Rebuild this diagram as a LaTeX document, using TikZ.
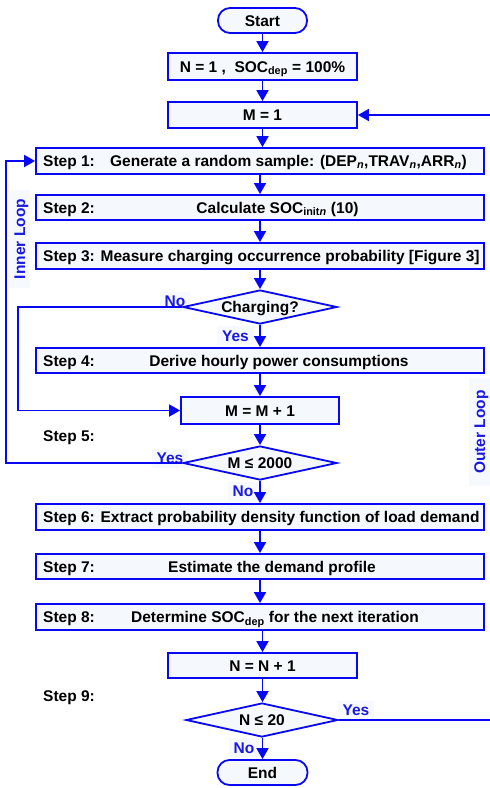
\documentclass[tikz,border=0pt]{standalone}
\usepackage{fontspec}
\setmainfont{Liberation Sans}
\usetikzlibrary{arrows.meta,shapes.geometric}
\definecolor{fcblue}{RGB}{8,8,245}
\definecolor{boxfill}{RGB}{245,248,253}
\definecolor{lblfill}{RGB}{246,249,254}
\definecolor{lbltext}{RGB}{25,25,225}
\begin{document}
\begin{tikzpicture}[x=1pt,y=-1pt,
  fnt/.style={font=\fontsize{15.5}{18}\selectfont\bfseries},
  box/.style={draw=fcblue, fill=boxfill, line width=1.8pt, minimum height=26pt, inner sep=0pt,
     text height=11pt, text depth=0pt, fnt},
  term/.style={box, rounded corners=12pt, minimum width=89pt, minimum height=25pt},
  dec/.style={draw=fcblue, fill=boxfill, line width=1.8pt, diamond, aspect=4.53,
     minimum width=154pt, minimum height=34pt, inner sep=0pt,
     text height=11pt, text depth=0pt, fnt},
  txt/.style={inner sep=0pt, text height=11pt, text depth=0pt, fnt},
  lbl/.style={fill=lblfill, text=lbltext, inner xsep=5pt, inner ysep=4pt,
     text height=11pt, text depth=0pt, fnt},
  arr/.style={draw=fcblue, line width=1.8pt, -{Triangle[width=12pt,length=11pt]}},
]
\useasboundingbox (0,0) rectangle (490,788);

% labels (drawn first, lines go over their backgrounds)
\node[lbl] (lno1) at (175,301) {No};
\node[lbl] (lyes1) at (235.5,335.5) {Yes};
\node[lbl] (lyes2) at (170,458) {Yes};
\node[lbl] (lno2) at (243,491) {No};
\node[lbl] (lyes3) at (356,710) {Yes};
\node[lbl] (lno3) at (244,747.5) {No};
\node[lbl, rotate=90, inner xsep=9pt, inner ysep=5pt] (inner) at (19.5,239) {Inner Loop};
\node[lbl, rotate=90, inner xsep=12pt, inner ysep=5pt] (outer) at (479.5,432) {Outer Loop};

% main boxes
\node[term] (start) at (262.5,20.5) {Start};
\node[box, minimum width=189pt, minimum height=27pt] (n1) at (262.5,66.5) {N = 1 ,\ \ SOC\textsubscript{dep} = 100\%};
\node[box, minimum width=189pt] (m1) at (262.5,115) {M = 1};
\node[box, minimum width=448pt] (s1) at (260,161) {};
\node[box, minimum width=448pt, minimum height=25pt] (s2) at (260,207.5) {};
\node[box, minimum width=448pt] (s3) at (260,256) {};
\node[dec] (chg) at (260,307) {Charging?};
\node[box, minimum width=448pt, minimum height=25pt] (s4) at (260,360.5) {};
\node[box, minimum width=158pt, minimum height=27pt] (mp1) at (260,410.5) {M = M + 1};
\node[dec] (m2000) at (260,463) {M ≤ 2000};
\node[box, minimum width=448pt] (s6) at (260,517) {};
\node[box, minimum width=448pt, minimum height=25pt] (s7) at (260,566.5) {};
\node[box, minimum width=448pt] (s8) at (260,617) {};
\node[box, minimum width=189pt, minimum height=25pt] (np1) at (262.5,665.5) {N = N + 1};
\node[dec, minimum width=152pt] (n20) at (262,720) {N ≤ 20};
\node[term, minimum width=90pt] (end) at (262.5,772.5) {End};

% texts in step boxes
\node[txt, anchor=west] (s1a) at (43,161) {Step 1:};
\node[txt] (s1b) at (288.5,161) {Generate a random sample: (DEP\textsubscript{\textit{n}},TRAV\textsubscript{\textit{n}},ARR\textsubscript{\textit{n}})};
\node[txt, anchor=west] (s2a) at (43,207.5) {Step 2:};
\node[txt] (s2b) at (277.5,207.5) {Calculate SOC\textsubscript{init\textit{n}} (10)};
\node[txt, anchor=west] (s3a) at (43,256) {Step 3: Measure charging occurrence probability [Figure 3]};
\node[txt, anchor=west] (s4a) at (43,360.5) {Step 4:};
\node[txt] (s4b) at (279,360.5) {Derive hourly power consumptions};
\node[txt, anchor=west] (s5a) at (43,435.5) {Step 5:};
\node[txt, anchor=west] (s6a) at (43,517) {Step 6: Extract probability density function of load demand};
\node[txt, anchor=west] (s7a) at (43,566.5) {Step 7:};
\node[txt] (s7b) at (272,566.5) {Estimate the demand profile};
\node[txt, anchor=west] (s8a) at (43,617) {Step 8:};
\node[txt] (s8b) at (275,617) {Determine SOC\textsubscript{dep} for the next iteration};
\node[txt, anchor=west] (s9a) at (43,695.5) {Step 9:};

% connectors
\draw[arr] (start) -- (n1);
\draw[arr] (n1) -- (m1);
\draw[arr] (m1.south) -- (m1.south |- s1.north);
\draw[arr] (s1) -- (s2);
\draw[arr] (s2) -- (s3);
\draw[arr] (s3) -- (chg);
\draw[arr] (chg) -- (s4);
\draw[arr] (s4) -- (mp1);
\draw[arr] (mp1) -- (m2000);
\draw[arr] (m2000) -- (s6);
\draw[arr] (s6) -- (s7);
\draw[arr] (s7) -- (s8);
\draw[arr] (np1 |- s8.south) -- (np1.north);
\draw[arr] (np1.south) -- (np1.south |- n20.north);
\draw[arr] (end.north |- n20.south) -- (end.north);

\coordinate (xa) at (18,0);
\coordinate (xb) at (6,0);
\coordinate (xc) at (497,0);
\draw[arr] (chg.west) -- (chg.west -| xa) |- (mp1.west);
\draw[arr] (m2000.west) -- (m2000.west -| xb) |- (s1.west);
\draw[arr] (n20.east) -- (n20.east -| xc) |- (m1.east);
\end{tikzpicture}
\end{document}
